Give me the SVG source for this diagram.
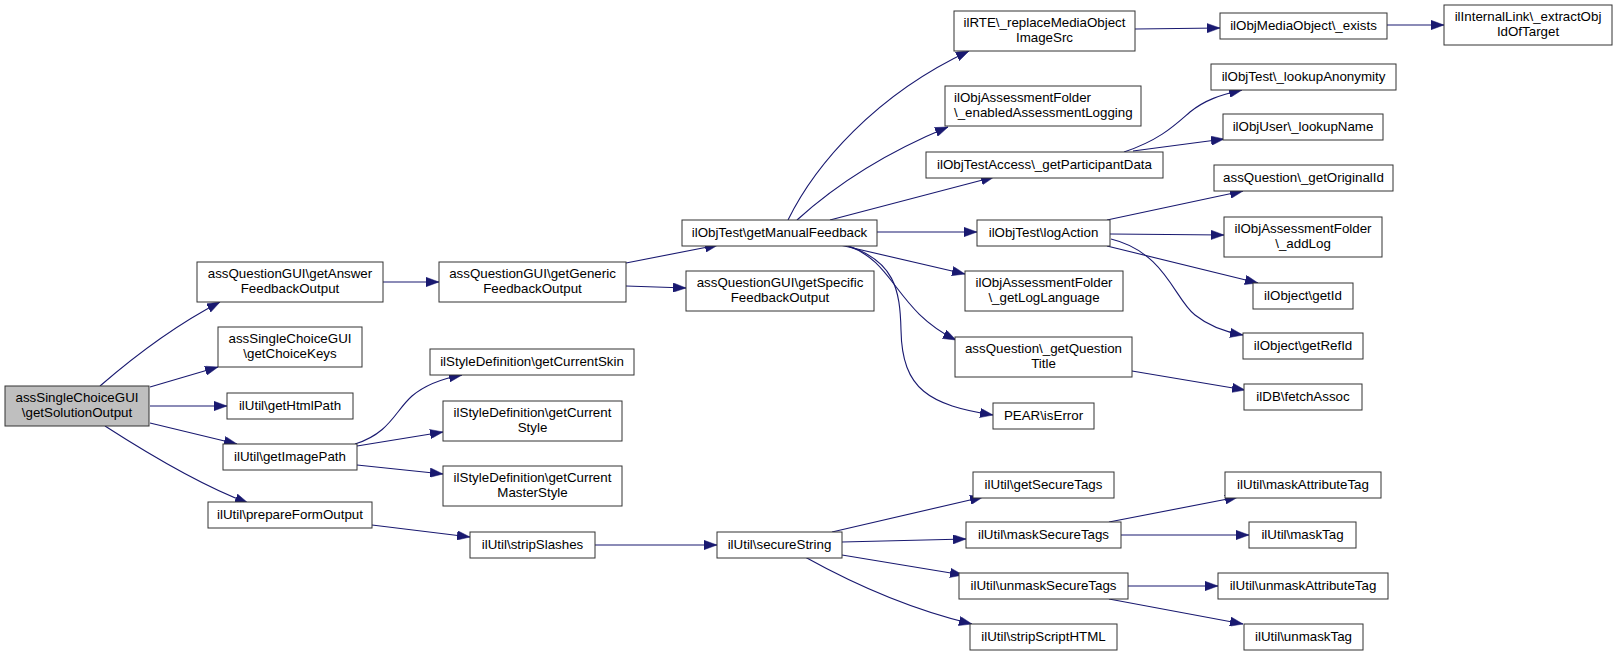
<svg xmlns="http://www.w3.org/2000/svg" width="1616" height="655" viewBox="0 0 1616 655">
<style>
.n rect{fill:#fff;stroke:#333;stroke-width:1}
.root rect{fill:#bfbfbf}
text{font-family:"Liberation Sans",Arial,Helvetica,sans-serif;font-size:13.33px;fill:#000;text-anchor:middle}
text.l{text-anchor:start}
.e path{fill:none;stroke:#191970;stroke-width:1.1;marker-end:url(#ah)}
</style>
<defs>
<marker id="ah" viewBox="0 0 13 9.4" refX="13" refY="4.7" markerWidth="13" markerHeight="9.4" markerUnits="userSpaceOnUse" orient="auto">
<polygon points="0,0 13,4.7 0,9.4" fill="#191970" stroke="#191970" stroke-width="0.5"/>
</marker>
</defs>
<rect width="1616" height="655" fill="#fff"/>
<g id="edges" class="e">
<path d="M100,386 C130,360 170,328 220,302"/>
<path d="M150,387 L218,367"/>
<path d="M150,406 L227,406"/>
<path d="M150,423 L237,444"/>
<path d="M105,426 C150,455 200,485 248,503"/>
<path d="M383,282 L439,282"/>
<path d="M626,263 L718,245"/>
<path d="M626,286 L686,288"/>
<path d="M355,444 C390,433 395,411 412,396 C425,385 440,379 462,375"/>
<path d="M357,446 L443,432"/>
<path d="M357,465 L443,474"/>
<path d="M372,525 L470,537"/>
<path d="M595,545 L717,545"/>
<path d="M832,532 L983,497"/>
<path d="M842,542 L966,539"/>
<path d="M842,555 L963,575"/>
<path d="M805,557 C850,582 905,608 972,624"/>
<path d="M1109,522 L1238,497"/>
<path d="M1121,535 L1249,535"/>
<path d="M1128,586 L1218,586"/>
<path d="M1109,599 L1243,624"/>
<path d="M788,220 C815,165 875,95 969,51"/>
<path d="M797,220 C830,190 880,155 948,127"/>
<path d="M830,220 L994,177"/>
<path d="M877,232 L977,232"/>
<path d="M840,245 L965,274"/>
<path d="M848,246 C895,262 895,310 956,340"/>
<path d="M845,245 C895,260 900,290 901,330 C902,390 930,405 993,415"/>
<path d="M1124,152 C1160,140 1175,125 1190,112 C1205,100 1220,95 1242,90"/>
<path d="M1133,151 L1224,139"/>
<path d="M1107,220 L1243,191"/>
<path d="M1110,234 L1224,235"/>
<path d="M1107,246 L1258,283"/>
<path d="M1111,239 C1165,252 1175,300 1195,315 C1210,327 1225,332 1243,335"/>
<path d="M1132,371 L1245,390"/>
<path d="M1135,29 L1220,28"/>
<path d="M1387,25 L1444,25"/>
</g>
<g id="n1" class="n root"><rect x="5" y="386" width="144" height="40"/><text x="77" y="401.5">assSingleChoiceGUI</text><text x="77" y="417">\getSolutionOutput</text></g>
<g id="n2" class="n"><rect x="197" y="262" width="186" height="40"/><text x="290" y="277.5">assQuestionGUI\getAnswer</text><text x="290" y="293">FeedbackOutput</text></g>
<g id="n3" class="n"><rect x="218" y="327" width="144" height="40"/><text x="290" y="342.5">assSingleChoiceGUI</text><text x="290" y="358">\getChoiceKeys</text></g>
<g id="n4" class="n"><rect x="227" y="393" width="126" height="26"/><text x="290" y="409.5">ilUtil\getHtmlPath</text></g>
<g id="n5" class="n"><rect x="223" y="444" width="134" height="26"/><text x="290" y="460.5">ilUtil\getImagePath</text></g>
<g id="n6" class="n"><rect x="208" y="502" width="164" height="26"/><text x="290" y="518.5">ilUtil\prepareFormOutput</text></g>
<g id="n7" class="n"><rect x="439" y="262" width="187" height="40"/><text x="532.5" y="277.5">assQuestionGUI\getGeneric</text><text x="532.5" y="293">FeedbackOutput</text></g>
<g id="n8" class="n"><rect x="686" y="271" width="188" height="40"/><text x="780" y="286.5">assQuestionGUI\getSpecific</text><text x="780" y="302">FeedbackOutput</text></g>
<g id="n9" class="n"><rect x="682" y="220" width="195" height="26"/><text x="779.5" y="236.5">ilObjTest\getManualFeedback</text></g>
<g id="n10" class="n"><rect x="430" y="349" width="204" height="26"/><text x="532" y="365.5">ilStyleDefinition\getCurrentSkin</text></g>
<g id="n11" class="n"><rect x="443" y="401" width="179" height="40"/><text x="532.5" y="416.5">ilStyleDefinition\getCurrent</text><text x="532.5" y="432">Style</text></g>
<g id="n12" class="n"><rect x="443" y="466" width="179" height="40"/><text x="532.5" y="481.5">ilStyleDefinition\getCurrent</text><text x="532.5" y="497">MasterStyle</text></g>
<g id="n13" class="n"><rect x="470" y="532" width="125" height="26"/><text x="532.5" y="548.5">ilUtil\stripSlashes</text></g>
<g id="n14" class="n"><rect x="717" y="532" width="125" height="26"/><text x="779.5" y="548.5">ilUtil\secureString</text></g>
<g id="n15" class="n"><rect x="954" y="11" width="181" height="40"/><text x="1044.5" y="26.5">ilRTE\_replaceMediaObject</text><text x="1044.5" y="42">ImageSrc</text></g>
<g id="n16" class="n"><rect x="1220" y="13" width="167" height="26"/><text x="1303.5" y="29.5">ilObjMediaObject\_exists</text></g>
<g id="n17" class="n"><rect x="1444" y="5" width="168" height="40"/><text x="1528" y="20.5">ilInternalLink\_extractObj</text><text x="1528" y="36">IdOfTarget</text></g>
<g id="n18" class="n"><rect x="945" y="86" width="196" height="40"/><text class="l" x="954" y="101.5">ilObjAssessmentFolder</text><text class="l" x="954" y="117">\_enabledAssessmentLogging</text></g>
<g id="n19" class="n"><rect x="1211" y="64" width="185" height="26"/><text x="1303.5" y="80.5">ilObjTest\_lookupAnonymity</text></g>
<g id="n20" class="n"><rect x="1223" y="114" width="160" height="26"/><text x="1303" y="130.5">ilObjUser\_lookupName</text></g>
<g id="n21" class="n"><rect x="926" y="152" width="237" height="26"/><text x="1044.5" y="168.5">ilObjTestAccess\_getParticipantData</text></g>
<g id="n22" class="n"><rect x="1214" y="165" width="179" height="26"/><text x="1303.5" y="181.5">assQuestion\_getOriginalId</text></g>
<g id="n23" class="n"><rect x="977" y="220" width="133" height="26"/><text x="1043.5" y="236.5">ilObjTest\logAction</text></g>
<g id="n24" class="n"><rect x="1224" y="217" width="158" height="40"/><text x="1303" y="232.5">ilObjAssessmentFolder</text><text x="1303" y="248">\_addLog</text></g>
<g id="n25" class="n"><rect x="965" y="271" width="158" height="40"/><text x="1044" y="286.5">ilObjAssessmentFolder</text><text x="1044" y="302">\_getLogLanguage</text></g>
<g id="n26" class="n"><rect x="1253" y="283" width="100" height="26"/><text x="1303" y="299.5">ilObject\getId</text></g>
<g id="n27" class="n"><rect x="1243" y="333" width="120" height="26"/><text x="1303" y="349.5">ilObject\getRefId</text></g>
<g id="n28" class="n"><rect x="955" y="337" width="177" height="40"/><text x="1043.5" y="352.5">assQuestion\_getQuestion</text><text x="1043.5" y="368">Title</text></g>
<g id="n29" class="n"><rect x="1244" y="384" width="118" height="26"/><text x="1303" y="400.5">ilDB\fetchAssoc</text></g>
<g id="n30" class="n"><rect x="993" y="403" width="101" height="26"/><text x="1043.5" y="419.5">PEAR\isError</text></g>
<g id="n31" class="n"><rect x="973" y="472" width="141" height="26"/><text x="1043.5" y="488.5">ilUtil\getSecureTags</text></g>
<g id="n32" class="n"><rect x="966" y="522" width="155" height="26"/><text x="1043.5" y="538.5">ilUtil\maskSecureTags</text></g>
<g id="n33" class="n"><rect x="959" y="573" width="169" height="26"/><text x="1043.5" y="589.5">ilUtil\unmaskSecureTags</text></g>
<g id="n34" class="n"><rect x="970" y="624" width="147" height="26"/><text x="1043.5" y="640.5">ilUtil\stripScriptHTML</text></g>
<g id="n35" class="n"><rect x="1225" y="472" width="156" height="26"/><text x="1303" y="488.5">ilUtil\maskAttributeTag</text></g>
<g id="n36" class="n"><rect x="1249" y="522" width="107" height="26"/><text x="1302.5" y="538.5">ilUtil\maskTag</text></g>
<g id="n37" class="n"><rect x="1218" y="573" width="170" height="26"/><text x="1303" y="589.5">ilUtil\unmaskAttributeTag</text></g>
<g id="n38" class="n"><rect x="1244" y="624" width="119" height="26"/><text x="1303.5" y="640.5">ilUtil\unmaskTag</text></g>
</svg>
